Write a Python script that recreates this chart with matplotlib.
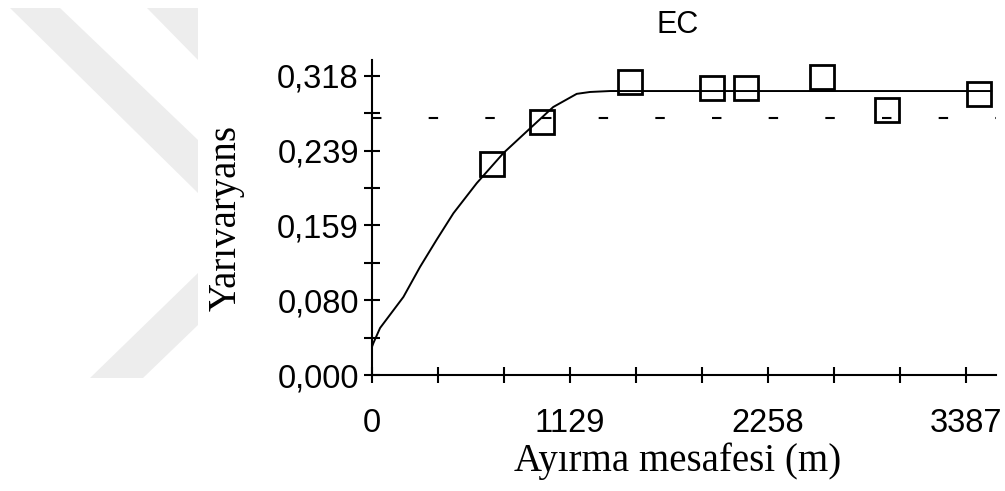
import numpy as np
import matplotlib.pyplot as plt
from matplotlib.patches import Polygon

plt.rcParams['lines.scale_dashes'] = False

# deneysel yarivaryans noktalari
lag = [684, 969, 1471, 1938, 2132, 2565, 2936, 3460]
gamma = [0.224, 0.269, 0.312, 0.305, 0.305, 0.317, 0.282, 0.299]

# model egrisi (resimden okunan noktalar)
model_x = [0, 8, 46, 179, 274, 369, 464, 597, 749, 882, 1033, 1167, 1243, 1357, 3530]
model_y = [0.030, 0.034, 0.050, 0.083, 0.115, 0.144, 0.172, 0.204, 0.236, 0.259,
           0.285, 0.299, 0.301, 0.302, 0.302]

variance = 0.273

xticks = [0, 1129, 2258, 3387]
yticks = [0.0, 0.0795, 0.159, 0.2385, 0.318]
ylabels = ["0,000", "0,080", "0,159", "0,239", "0,318"]

fig = plt.figure(figsize=(10.05, 4.91), dpi=100)

# arka plandaki filigran
W, H = 1005, 491
wm = [[(10, 8), (60, 8), (198, 140), (198, 193)],
      [(147, 8), (198, 8), (198, 60)],
      [(90, 378), (143, 378), (198, 325), (198, 273)]]
for p in wm:
    pts = [(x / W, 1 - y / H) for x, y in p]
    fig.patches.append(Polygon(pts, closed=True, transform=fig.transFigure,
                               facecolor='#ededed', edgecolor='none', zorder=0))

ax = fig.add_axes([372 / W, 1 - 375 / H, 624 / W, 315 / H])
ax.patch.set_alpha(0)

ax.plot(model_x, model_y, color='black', lw=1.4)
ax.plot(lag, gamma, 's', ms=17, mfc='none', mec='black', mew=2)
ax.axhline(variance, color='black', lw=1.5, dashes=(6.8, 34))

ax.set_xlim(0, 3557)
ax.set_ylim(0, 0.335)

ax.spines['top'].set_visible(False)
ax.spines['right'].set_visible(False)
ax.spines['left'].set_linewidth(1.5)
ax.spines['bottom'].set_linewidth(1.5)

ax.set_xticks(xticks)
ax.set_xticks(np.arange(0, 3500, 1129 / 3), minor=True)
ax.set_yticks(yticks)
ax.set_yticklabels(ylabels)
ax.set_yticks(np.arange(0, 0.33, 0.318 / 8), minor=True)

for ln in ['major', 'minor']:
    ax.tick_params(which=ln, direction='inout', length=11, width=1.5)
ax.tick_params(axis='x', which='major', pad=18, labelsize=23.5)
ax.tick_params(axis='y', which='major', pad=4, labelsize=23.5)
for t in ax.get_xticklabels() + ax.get_yticklabels():
    t.set_family('Liberation Sans')

ax.set_xlabel("Ayırma mesafesi (m)", family='Liberation Serif', fontsize=28)
ax.xaxis.set_label_coords(0.49, -0.215)
ax.set_ylabel("Yarıvaryans", family='Liberation Serif', fontsize=28)
ax.yaxis.set_label_coords(-0.2035, 0.498)

ax.text(0.489, 1.086, "EC", transform=ax.transAxes, ha='center', va='baseline',
        family='Liberation Sans', fontsize=22)

plt.savefig("out.png", dpi=100)
